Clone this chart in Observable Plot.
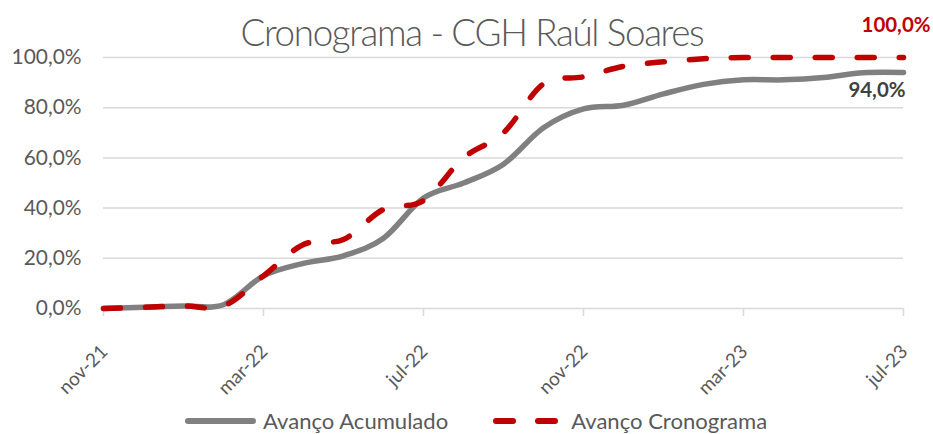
<!DOCTYPE html>
<html><head><meta charset="utf-8">
<script src="https://cdn.jsdelivr.net/npm/d3@7"></script>
<script src="https://cdn.jsdelivr.net/npm/@observablehq/plot@0.6"></script>
<style>
html,body{margin:0;padding:0;background:#fff;}
#chart{position:relative;width:933px;height:434px;overflow:hidden;font-family:Lato,sans-serif;}
#chart svg.plot{position:absolute;left:0;top:0;}
#title{position:absolute;left:0;top:0;width:933px;box-sizing:border-box;padding-left:11px;text-align:center;color:#595959;font-weight:300;line-height:1;white-space:nowrap;}
#legend{position:absolute;left:185px;height:30px;display:flex;align-items:center;color:#595959;white-space:nowrap;line-height:1;}
.item{display:flex;align-items:center;}
</style></head><body><div id="chart"></div>
<script>
const months = ["nov-21","dez-21","jan-22","fev-22","mar-22","abr-22","mai-22","jun-22","jul-22","ago-22","set-22","out-22","nov-22","dez-22","jan-23","fev-23","mar-23","abr-23","mai-23","jun-23","jul-23"];
const acumulado  = [0, 0.5, 1, 1.5, 13, 18, 21, 28, 44, 50, 57.5, 72, 79.5, 81, 85.5, 89.3, 91.1, 91.1, 92, 93.9, 94];
const cronograma = [0, 0.5, 1, 1, 13, 25.5, 27.5, 39.5, 43, 60, 70, 89.5, 92.3, 96.5, 98.3, 99.5, 100, 100, 100, 100, 100];
const seriesNames = ["Avanço Acumulado", "Avanço Cronograma"];
const xTickMonths = ["nov-21", "mar-22", "jul-22", "nov-22", "mar-23", "jul-23"];
const yTicks = [0, 20, 40, 60, 80, 100];
const titleText = "Cronograma - CGH Raúl Soares";

function measure(text, weight) {
  const c = document.createElement("canvas").getContext("2d");
  c.font = `${weight} 100px Lato`;
  return c.measureText(text).width / 100;
}
const fitSize = (text, weight, target) => target / measure(text, weight);
const fsTitle = fitSize(titleText, 300, 463) * 1.08;
const titleSpacing = (463 - measure(titleText, 300) * fsTitle) / titleText.length;
const fsTick = fitSize("100,0%", 400, 70);
const fsXTick = fitSize("nov-21", 400, 60);
const fsLegend = fitSize(seriesNames[0], 400, 186);
const fsLabel = fitSize("100,0%", 700, 69);

const rows = months.map((m, i) => ({i, m, acum: acumulado[i], cron: cronograma[i]}));
const idx = m => months.indexOf(m);
const pct = v => v.toFixed(1).replace(".", ",") + "%";
const last = rows[rows.length - 1];

const plot = Plot.plot({
  width: 933, height: 434,
  marginLeft: 103, marginRight: 30, marginTop: 57, marginBottom: 126,
  x: {type: "linear", domain: [0, months.length - 1], axis: null},
  y: {domain: [0, 100], axis: null},
  style: {fontFamily: "Lato, sans-serif", background: "transparent", overflow: "visible"},
  marks: [
    Plot.ruleY(yTicks, {y: d => d, stroke: "#d9d9d9", strokeWidth: 1.5}),
    Plot.ruleX(xTickMonths, {x: d => idx(d), y1: 0, y2: 0, insetBottom: -8, stroke: "#d9d9d9", strokeWidth: 1.5}),
    Plot.text(yTicks, {y: d => d, frameAnchor: "left", text: d => pct(d), textAnchor: "end", dx: -22, fontSize: fsTick, fill: "#595959"}),
    Plot.text(xTickMonths, {x: d => idx(d), frameAnchor: "bottom", text: d => d, rotate: -45, textAnchor: "end", lineAnchor: "middle", dx: 1, dy: 40, fontSize: fsXTick, fill: "#595959"}),
    Plot.line(rows, {x: "i", y: "acum", curve: "cardinal", stroke: "#808080", strokeWidth: 5.5, strokeLinecap: "round"}),
    Plot.line(rows, {x: "i", y: "cron", curve: "cardinal", stroke: "#C00000", strokeWidth: 5.5, strokeLinecap: "round", strokeDasharray: "17,25"}),
    Plot.text([last], {x: "i", y: "cron", text: d => pct(d.cron), textAnchor: "end", dx: 27, dy: -32, fontWeight: "bold", fontSize: fsLabel, fill: "#C00000"}),
    Plot.text([last], {x: "i", y: "acum", text: d => pct(d.acum), textAnchor: "end", dx: 2, dy: 18, fontWeight: "bold", fontSize: fsLabel, fill: "#404040"})
  ]
});
plot.classList.add("plot");
const chart = document.getElementById("chart");
chart.appendChild(plot);

const title = document.createElement("div");
title.id = "title";
title.textContent = titleText;
title.style.fontSize = fsTitle + "px";
title.style.letterSpacing = titleSpacing + "px";
title.style.top = (47 - 0.887 * fsTitle) + "px";
chart.appendChild(title);

const legend = document.createElement("div");
legend.id = "legend";
legend.style.top = "406px";
legend.style.fontSize = fsLegend + "px";
const sw = [
  {w: 71, stroke: "#808080", dash: null, mr: 7, gap: 45},
  {w: 65, stroke: "#C00000", dash: "17,25", mr: 13, gap: 0}
];
seriesNames.forEach((name, k) => {
  const it = document.createElement("div");
  it.className = "item";
  it.style.marginRight = sw[k].gap + "px";
  const s = d3.create("svg").attr("width", sw[k].w).attr("height", 12).style("margin-right", sw[k].mr + "px");
  s.append("line").attr("x1", 3).attr("x2", sw[k].w - 3).attr("y1", 6).attr("y2", 6)
    .attr("stroke", sw[k].stroke).attr("stroke-width", 6).attr("stroke-linecap", "round")
    .attr("stroke-dasharray", sw[k].dash);
  it.appendChild(s.node());
  const t = document.createElement("span");
  t.textContent = name;
  it.appendChild(t);
  legend.appendChild(it);
});
chart.appendChild(legend);
</script>
</body></html>
